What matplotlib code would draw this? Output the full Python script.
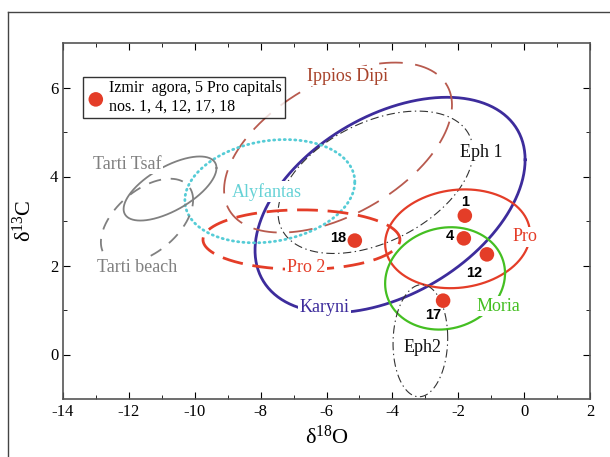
import numpy as np
import matplotlib
matplotlib.use("Agg")
import matplotlib.pyplot as plt
from matplotlib.lines import Line2D

plt.rcParams['font.family'] = ['Liberation Serif', 'DejaVu Serif']
plt.rcParams['axes.unicode_minus'] = False
plt.rcParams['lines.scale_dashes'] = False

# ---- data ----
# Izmir agora samples
sample_ids = ["1", "4", "12", "17", "18"]
sample_d18O = [-1.80, -1.83, -1.13, -2.46, -5.14]
sample_d13C = [3.12, 2.61, 2.25, 1.21, 2.56]
sample_label_x = [-1.80, -2.25, -1.52, -2.77, -5.65]
sample_label_y = [3.42, 2.67, 1.84, 0.88, 2.61]

# quarry fields: centre (d18O, d13C), half-ranges, correlation
field_names = ["Karyni", "Eph 1", "Ippios Dipi", "Alyfantas", "Tarti Tsaf",
               "Tarti beach", "Pro 2", "Pro", "Moria", "Eph2"]
field_cx = [-4.07, -4.51, -5.65, -7.72, -10.75, -11.45, -6.76, -2.02, -2.40, -3.15]
field_cy = [3.36, 3.87, 4.65, 3.67, 3.73, 3.00, 2.58, 2.60, 1.71, 0.31]
field_ax = [4.10, 2.96, 3.46, 2.58, 1.41, 1.40, 2.99, 2.20, 1.82, 0.83]
field_ay = [2.42, 1.60, 1.91, 1.16, 0.72, 0.95, 0.67, 1.11, 1.15, 1.26]
field_rho = [0.42, 0.43, 0.50, 0.18, 0.64, 0.50, 0.00, 0.10, 0.10, 0.05]
label_x = [-6.05, -1.31, -5.35, -7.81, -12.06, -11.75, -6.62, 0.03, -0.79, -3.10]
label_y = [1.06, 4.54, 6.25, 3.66, 4.27, 1.96, 1.96, 2.65, 1.08, 0.16]

x_ticks = [-14, -12, -10, -8, -6, -4, -2, 0, 2]
y_ticks = [0, 2, 4, 6]

# ---- styles ----
styles = {
    "Karyni":      dict(color="#3d2c9c", lw=2.0, ls='-'),
    "Eph 1":       dict(color="#333333", lw=0.8, ls=(0, (6, 2.5, 1, 2.5))),
    "Ippios Dipi": dict(color="#b85a4e", lw=1.3, ls=(0, (17, 9))),
    "Alyfantas":   dict(color="#55ccd6", lw=2.0, ls=(0, (0.8, 3.0))),
    "Tarti Tsaf":  dict(color="#808080", lw=1.3, ls='-'),
    "Tarti beach": dict(color="#808080", lw=1.3, ls=(0, (9, 7))),
    "Pro 2":       dict(color="#e43d28", lw=2.0, ls=(0, (15, 7))),
    "Pro":         dict(color="#e43d28", lw=1.6, ls='-'),
    "Moria":       dict(color="#44bf22", lw=1.6, ls='-'),
    "Eph2":        dict(color="#333333", lw=0.8, ls=(0, (6, 2.5, 1, 2.5))),
}
label_colors = {
    "Karyni": "#3d2c9c", "Eph 1": "#111111", "Ippios Dipi": "#a8442c",
    "Alyfantas": "#66d2d6", "Tarti Tsaf": "#808080", "Tarti beach": "#808080",
    "Pro 2": "#e43d28", "Pro": "#e43d28", "Moria": "#44bf22", "Eph2": "#111111",
}

fig = plt.figure(figsize=(6.10, 4.57), dpi=100)
ax = fig.add_axes([63/610, 1-399/457, 527/610, 356/457])

# outer frame of figure
fig.add_artist(Line2D([8/610, 8/610], [0, 1-12/457], transform=fig.transFigure,
                      color="#444444", lw=1.0))
fig.add_artist(Line2D([8/610, 1], [1-12/457, 1-12/457], transform=fig.transFigure,
                      color="#444444", lw=1.0))

t = np.linspace(0, 2*np.pi, 400)
for name, cx, cy, a, b, r in zip(field_names, field_cx, field_cy, field_ax, field_ay, field_rho):
    x = cx + a*np.cos(t)
    y = cy + b*(r*np.cos(t) + np.sqrt(1-r*r)*np.sin(t))
    st = styles[name]
    cap = 'round' if name == "Alyfantas" else 'butt'
    ax.plot(x, y, color=st["color"], lw=st["lw"], linestyle=st["ls"], zorder=2,
            dash_capstyle=cap)

for name, lx, ly in zip(field_names, label_x, label_y):
    ax.text(lx, ly, name, color=label_colors[name], fontsize=13, ha='center', va='center',
            zorder=4, bbox=dict(facecolor='white', edgecolor='none', pad=1.0))

ax.scatter(sample_d18O, sample_d13C, s=110, color="#e43d28", zorder=5, edgecolors='none',
           label="Izmir  agora, 5 Pro capitals\nnos. 1, 4, 12, 17, 18")
for sid, lx, ly in zip(sample_ids, sample_label_x, sample_label_y):
    ax.text(lx, ly, sid, fontsize=10.5, fontweight='bold', family='Liberation Sans',
            ha='center', va='center', zorder=6)

leg = ax.legend(loc='upper left', bbox_to_anchor=(0.038, 0.904), borderaxespad=0,
                frameon=True, fancybox=False, fontsize=11.5, handletextpad=0.2,
                borderpad=0.2, handlelength=1.2, markerscale=1.0, labelspacing=0.2)
leg.get_frame().set_edgecolor('black')
leg.get_frame().set_linewidth(1.0)

ax.set_xlim(-14, 2)
ax.set_ylim(-1, 7)
ax.set_xticks(x_ticks)
ax.set_yticks(y_ticks)
ax.set_xticks(np.arange(-13, 2, 2), minor=True)
ax.set_yticks([1, 3, 5], minor=True)
ax.tick_params(which='both', direction='in', top=True, right=True, labelsize=12)
ax.tick_params(which='major', length=5)
ax.tick_params(which='minor', length=3)
for s in ax.spines.values():
    s.set_color('#555555')
    s.set_linewidth(1.2)

ax.set_xlabel(r"$\mathregular{\delta^{18}O}$", fontsize=16, labelpad=4)
ax.set_ylabel(r"$\mathregular{\delta^{13}C}$", fontsize=16, labelpad=10)

fig.savefig("out.png", dpi=100)
